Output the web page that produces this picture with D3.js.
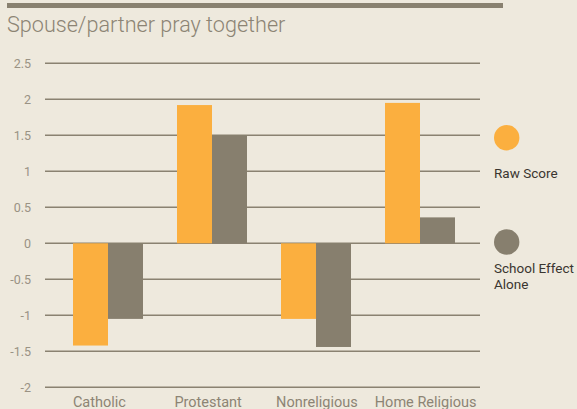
<!DOCTYPE html>
<html>
<head>
<meta charset="utf-8">
<script src="https://cdn.jsdelivr.net/npm/d3@7"></script>
<style>
  body { margin: 0; background: #eee9dd; }
  svg { display: block; }
</style>
</head>
<body>
<script>
var categories = ["Catholic", "Protestant", "Nonreligious", "Home Religious"];
var series = ["Raw Score", "School Effect Alone"];
var rawScore = [-1.42, 1.92, -1.05, 1.95];
var schoolEffect = [-1.05, 1.50, -1.44, 0.36];
var yTicks = [-2, -1.5, -1, -0.5, 0, 0.5, 1, 1.5, 2, 2.5];
var colors = ["#fbaf3f", "#877f6e"];

var width = 577,
	height = 409;

var svg = d3.select("body")
	.append("svg")
	.attr("width", width)
	.attr("height", height);

// paper background
svg.append("rect")
	.attr("width", width)
	.attr("height", height)
	.attr("fill", "#eee9dd");

// top rule + title
svg.append("rect")
	.attr("x", 7).attr("y", 3)
	.attr("width", 496).attr("height", 5)
	.attr("fill", "#898170");

svg.append("text")
	.attr("x", 7).attr("y", 32)
	.attr("font-family", "Roboto")
	.attr("font-weight", 300)
	.attr("font-size", 21.6)
	.attr("fill", "#8c8474")
	.text("Spouse/partner pray together");

var y = d3.scaleLinear()
	.domain([-2, 2.5])
	.range([387.3, 63.3]);

// gridlines
svg.append("g")
	.selectAll("line")
	.data(yTicks)
	.enter()
	.append("line")
	.attr("x1", 45).attr("x2", 480)
	.attr("y1", function(d) { return y(d); })
	.attr("y2", function(d) { return y(d); })
	.attr("stroke", "#8a8271")
	.attr("stroke-width", 1.5);

// y labels
svg.append("g")
	.selectAll("text")
	.data(yTicks)
	.enter()
	.append("text")
	.attr("x", 31)
	.attr("y", function(d) { return y(d) + 4.5; })
	.attr("text-anchor", "end")
	.attr("font-family", "Roboto")
	.attr("font-size", 12.5)
	.attr("fill", "#9a9284")
	.text(function(d) { return d; });

// bars
var x0 = d3.scaleBand()
	.domain(categories)
	.range([56, 472]);

var x1 = d3.scaleBand()
	.domain(series)
	.range([17, 87]);

var values = [rawScore, schoolEffect];

series.forEach(function(s, si) {
	svg.append("g")
		.selectAll("rect")
		.data(values[si])
		.enter()
		.append("rect")
		.attr("x", function(d, i) { return x0(categories[i]) + x1(s); })
		.attr("width", x1.bandwidth())
		.attr("y", function(d) { return y(Math.max(0, d)); })
		.attr("height", function(d) { return Math.abs(y(d) - y(0)); })
		.attr("fill", colors[si]);
});

// category labels
var xl = d3.scaleBand()
	.domain(categories)
	.range([45, 480]);

svg.append("g")
	.selectAll("text")
	.data(categories)
	.enter()
	.append("text")
	.attr("x", function(d) { return xl(d) + xl.bandwidth() / 2; })
	.attr("y", 406.5)
	.attr("text-anchor", "middle")
	.attr("font-family", "Roboto")
	.attr("font-size", 14.5)
	.attr("fill", "#8c8474")
	.text(function(d) { return d; });

// legend
var legend = [
	{ cy: 137.7, lines: ["Raw Score"], ty: 178 },
	{ cy: 242, lines: ["School Effect", "Alone"], ty: 273 }
];

legend.forEach(function(l, i) {
	svg.append("circle")
		.attr("cx", 506.7).attr("cy", l.cy).attr("r", 12.7)
		.attr("fill", colors[i]);
	l.lines.forEach(function(t, j) {
		svg.append("text")
			.attr("x", 494).attr("y", l.ty + j * 16)
			.attr("font-family", "Roboto")
			.attr("font-size", 13.5)
			.attr("fill", "#3a3630")
			.text(t);
	});
});
</script>
</body>
</html>
